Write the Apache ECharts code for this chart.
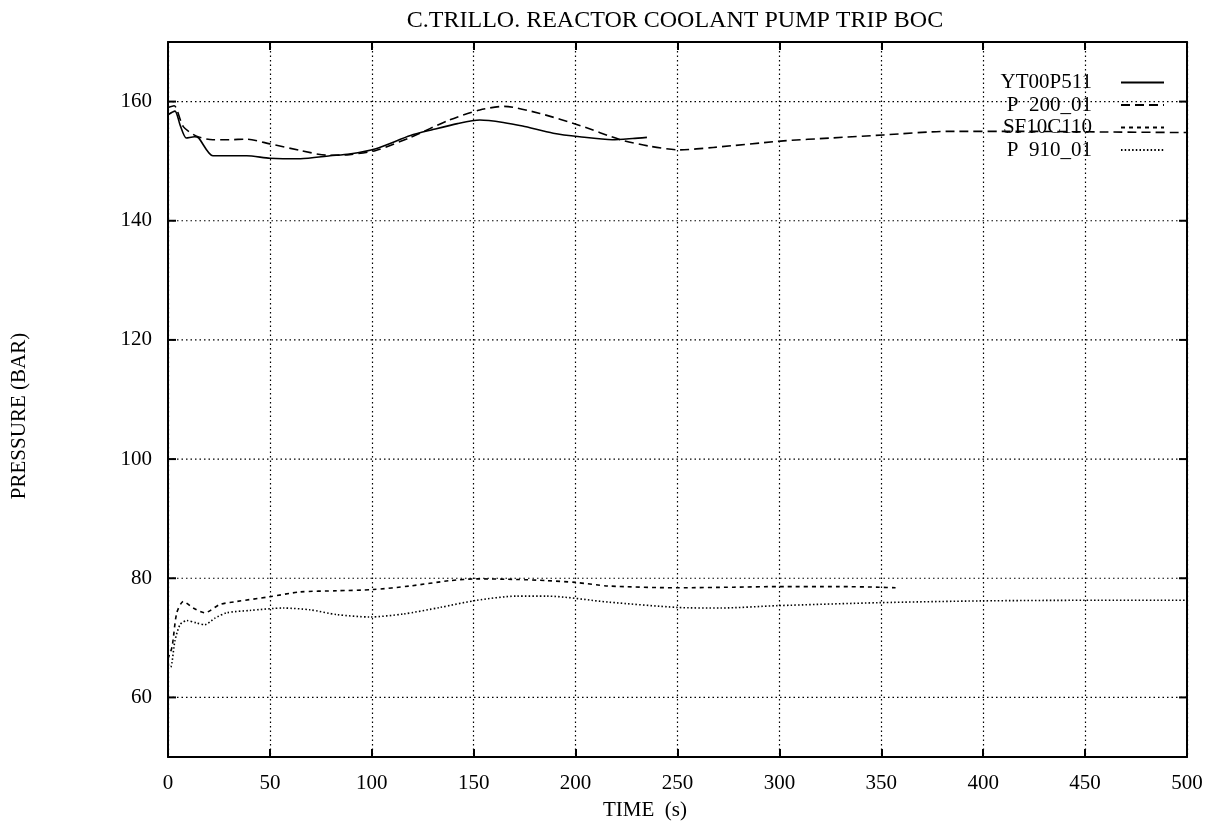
<!DOCTYPE html>
<html>
<head>
<meta charset="utf-8">
<script src="https://cdn.jsdelivr.net/npm/echarts@6/dist/echarts.min.js"></script>
<style>
html,body{margin:0;padding:0;background:#fff;}
#chart{width:1210px;height:822px;}
</style>
</head>
<body>
<div id="chart"></div>
<script>
var titleText = 'C.TRILLO. REACTOR COOLANT PUMP TRIP BOC';
var xName = 'TIME  (s)';
var yName = 'PRESSURE (BAR)';
var seriesNames = ['YT00P511', 'P  200_01', 'SF10C110', 'P  910_01'];
var xTicks = [0, 50, 100, 150, 200, 250, 300, 350, 400, 450, 500];
var yTicks = [60, 80, 100, 120, 140, 160];

var t1 = [0, 3.4, 6, 9, 13, 15, 22, 30, 38.6, 50, 65, 79.5, 89, 102, 119, 130, 142, 153, 164.5, 174, 189, 202, 218, 228, 235];
var v1 = [157.8, 158.4, 156.0, 153.9, 154.1, 153.9, 150.9, 150.9, 150.9, 150.5, 150.4, 150.9, 151.2, 152.1, 154.3, 155.3, 156.3, 156.9, 156.5, 155.9, 154.7, 154.1, 153.6, 153.8, 154.0];

var t2 = [0, 3, 7.5, 14, 22, 30, 38.6, 50, 65, 78, 89, 102, 119, 138, 153, 165, 182.5, 202, 222, 236.5, 251, 267.5, 302, 326, 351, 382, 420, 460, 500];
var v2 = [159.0, 159.3, 155.8, 154.2, 153.6, 153.6, 153.7, 152.9, 151.8, 151.0, 151.1, 151.8, 154.0, 156.9, 158.6, 159.2, 158.0, 156.0, 153.6, 152.5, 151.9, 152.3, 153.4, 153.9, 154.4, 155.0, 155.0, 154.9, 154.8];

var t3 = [0, 2, 4.3, 7.5, 12.4, 18, 25.5, 33.7, 50, 64.7, 82.8, 100.6, 118.7, 138.4, 151.5, 171, 186, 200, 216, 250, 277.5, 299, 328.6, 349, 357];
var v3 = [66.5, 68.5, 74.2, 76.1, 75.0, 74.2, 75.6, 76.1, 76.9, 77.7, 77.9, 78.1, 78.7, 79.6, 79.9, 79.8, 79.6, 79.3, 78.7, 78.4, 78.5, 78.6, 78.6, 78.5, 78.4];

var t4 = [0, 1.3, 3.4, 5.9, 9.2, 14, 18, 23, 28.8, 40.2, 56.6, 69.7, 82.8, 99, 115.5, 133.5, 151.5, 171, 186, 216, 250, 271, 299, 349, 399, 450, 500];
var v4 = [65.5, 65.1, 69.5, 72.2, 72.9, 72.5, 72.2, 73.3, 74.2, 74.6, 75.0, 74.7, 73.9, 73.5, 74.0, 75.1, 76.3, 77.0, 77.0, 76.0, 75.1, 75.0, 75.4, 75.9, 76.2, 76.3, 76.3];

function pairs(t, v) { return t.map(function (x, i) { return [x, v[i]]; }); }

var FONT = '"Liberation Serif", "Times New Roman", serif';
var chart = echarts.init(document.getElementById('chart'));

var gridDash = [1.5, 3];

function lineSeries(name, t, v, dash, width) {
  return {
    name: name, type: 'line', data: pairs(t, v), symbol: 'none', smooth: 0.25,
    xAxisIndex: 0, yAxisIndex: 0, z: 5,
    itemStyle: { color: 'rgba(0,0,0,0)', opacity: 0 },
    lineStyle: { color: '#000', width: width, type: dash }
  };
}

var option = {
  animation: false,
  backgroundColor: '#fff',
  grid: { left: 168, right: 23, top: 42, bottom: 65, containLabel: false },
  legend: {
    data: seriesNames, orient: 'vertical', align: 'right',
    right: 45, top: 72, itemWidth: 43, itemHeight: 14, itemGap: 1.5, padding: 0,
    itemStyle: { opacity: 0, borderWidth: 0 },
    lineStyle: { color: '#000', opacity: 1 },
    textStyle: { fontFamily: FONT, fontSize: 21, color: '#000', lineHeight: 20, padding: [0, 24, 0, 0] },
    inactiveColor: '#000'
  },
  xAxis: [{
    type: 'value', min: 0, max: 500, interval: 50, position: 'bottom',
    axisLine: { show: true, onZero: false, lineStyle: { color: '#000', width: 2 } },
    axisTick: { show: true, inside: true, length: 8, lineStyle: { color: '#000', width: 2 } },
    axisLabel: { fontFamily: FONT, fontSize: 21, color: '#000', margin: 16 },
    splitLine: { show: true, lineStyle: { color: '#000', width: 1.2, type: gridDash } }
  }, {
    type: 'value', min: 0, max: 500, interval: 50, position: 'top',
    axisLine: { show: true, onZero: false, lineStyle: { color: '#000', width: 2 } },
    axisTick: { show: true, inside: true, length: 8, lineStyle: { color: '#000', width: 2 } },
    axisLabel: { show: false }, splitLine: { show: false }
  }],
  yAxis: [{
    type: 'value', min: 50, max: 170, interval: 10, position: 'left',
    axisLine: { show: true, onZero: false, lineStyle: { color: '#000', width: 2 } },
    axisTick: { show: false },
    axisLabel: {
      fontFamily: FONT, fontSize: 21, color: '#000', margin: 16,
      formatter: function (v) { return yTicks.indexOf(v) >= 0 ? String(v) : ''; }
    },
    splitLine: { show: false }
  }, {
    type: 'value', min: 50, max: 170, interval: 10, position: 'right',
    axisLine: { show: true, onZero: false, lineStyle: { color: '#000', width: 2 } },
    axisTick: { show: false }, axisLabel: { show: false }, splitLine: { show: false }
  }],
  graphic: [
    { type: 'text', x: 675, y: 21, style: { text: titleText, font: '24px ' + FONT, fill: '#000', align: 'center', verticalAlign: 'middle' } },
    { type: 'text', x: 645, y: 810, style: { text: xName, font: '21px ' + FONT, fill: '#000', align: 'center', verticalAlign: 'middle' } },
    { type: 'text', x: 19, y: 416, rotation: Math.PI / 2, style: { text: yName, font: '21px ' + FONT, fill: '#000', align: 'center', verticalAlign: 'middle' } }
  ],
  series: [
    lineSeries(seriesNames[0], t1, v1, 'solid', 1.6),
    lineSeries(seriesNames[1], t2, v2, [9, 5], 1.6),
    lineSeries(seriesNames[2], t3, v3, [4, 4], 1.6),
    lineSeries(seriesNames[3], t4, v4, [1.5, 2.2], 1.6),
    {
      type: 'custom', name: 'ygrid', silent: true, z: 2,
      xAxisIndex: 0, yAxisIndex: 0,
      data: yTicks.map(function (v) { return [0, v]; }),
      encode: { x: 0, y: 1 },
      renderItem: function (params, api) {
        var v = api.value(1);
        var a = api.coord([0, v]);
        var b = api.coord([500, v]);
        return {
          type: 'group', children: [
            { type: 'line', shape: { x1: a[0], y1: a[1], x2: b[0], y2: b[1] }, style: { stroke: '#000', lineWidth: 1.2, lineDash: gridDash } },
            { type: 'line', shape: { x1: a[0], y1: a[1], x2: a[0] + 8, y2: a[1] }, style: { stroke: '#000', lineWidth: 2 } },
            { type: 'line', shape: { x1: b[0] - 8, y1: b[1], x2: b[0], y2: b[1] }, style: { stroke: '#000', lineWidth: 2 } }
          ]
        };
      }
    }
  ]
};
chart.setOption(option);
</script>
</body>
</html>
